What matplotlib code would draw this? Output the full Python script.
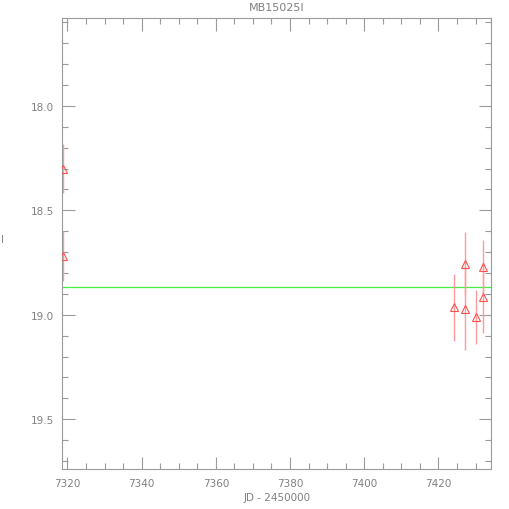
import matplotlib
matplotlib.use("Agg")
import matplotlib.pyplot as plt
from matplotlib.ticker import MultipleLocator
import numpy as np

# photometry, JD - 2450000 vs I magnitude
jd = np.array([7318.8, 7318.8, 7424.3, 7427.2, 7427.2, 7430.2, 7432.1, 7432.1])
mag = np.array([18.30, 18.72, 18.965, 18.755, 18.97, 19.01, 18.77, 18.915])
err = np.array([0.115, 0.12, 0.16, 0.15, 0.20, 0.13, 0.13, 0.17])
baseline = 18.866

grey = "#9a9a9a"
txt = "#808080"

fig = plt.figure(figsize=(5.1, 5.1), dpi=100)
ax = fig.add_axes([0.122, 0.078, 0.841, 0.885])

ax.errorbar(jd, mag, yerr=err, fmt="none", ecolor="#ff9a9a", elinewidth=1.0, capsize=0, zorder=2)
ax.plot(jd, mag, "^", mfc="none", mec="#ff5050", ms=5.5, mew=0.8, zorder=3)
ax.axhline(baseline, color="#44ee44", lw=0.9, zorder=1)

ax.set_xlim(7318.6, 7434.2)
ax.set_ylim(19.739, 17.579)

ax.xaxis.set_major_locator(MultipleLocator(20))
ax.xaxis.set_minor_locator(MultipleLocator(5))
ax.yaxis.set_major_locator(MultipleLocator(0.5))
ax.yaxis.set_minor_locator(MultipleLocator(0.1))
ax.yaxis.set_major_formatter(plt.FormatStrFormatter("%.1f"))

ax.tick_params(which="both", direction="in", top=True, right=True, color=grey,
               labelcolor=txt, labelsize=7.5, pad=6)
ax.tick_params(which="major", length=9, width=0.8)
ax.tick_params(which="minor", length=4.5, width=0.8)
for s in ax.spines.values():
    s.set_color(grey)
    s.set_linewidth(0.8)

ax.set_title("MB15025I", color=txt, fontsize=8, pad=6)
ax.set_xlabel("JD - 2450000", color=txt, fontsize=7.5, labelpad=3)
ax.set_ylabel("I", color=txt, fontsize=7.5, rotation=0, labelpad=20)

fig.savefig("out.png", dpi=100)
